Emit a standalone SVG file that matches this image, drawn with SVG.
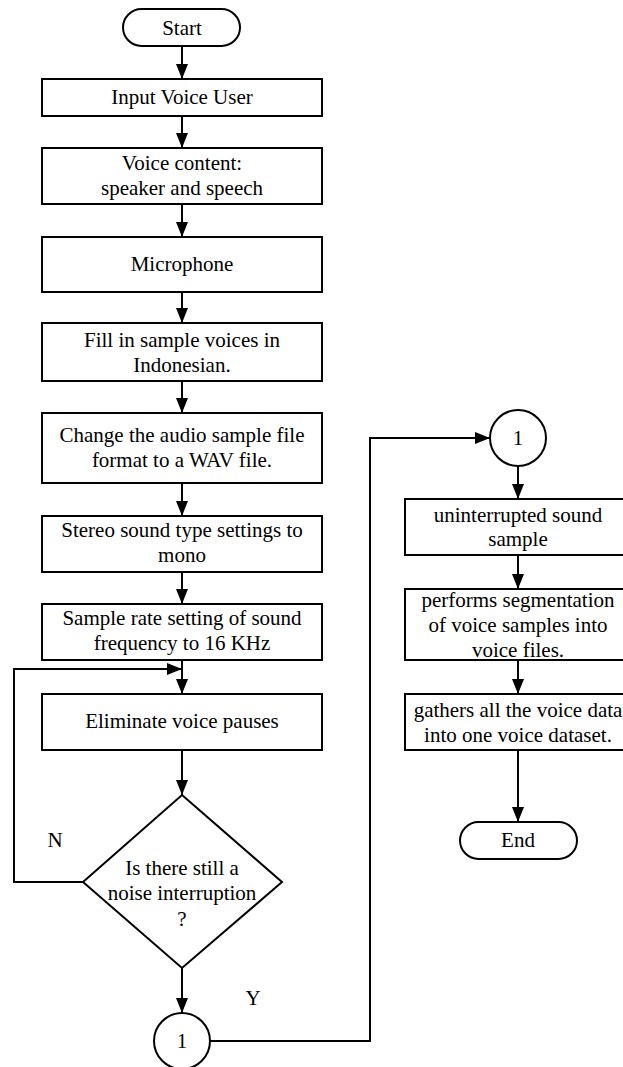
<svg xmlns="http://www.w3.org/2000/svg" width="623" height="1067" viewBox="0 0 623 1067">
<style>
.s{fill:#fff;stroke:#000;stroke-width:2}
.c{fill:none;stroke:#000;stroke-width:2}
text{font-family:"Liberation Serif","Times New Roman",serif;font-size:21px;fill:#000;text-anchor:middle}
</style>
<defs>
<marker id="a" markerUnits="userSpaceOnUse" markerWidth="16" markerHeight="12" refX="15" refY="6" orient="auto">
<path d="M0,0 L15,6 L0,12 z" fill="#000"/>
</marker>
</defs>
<rect width="623" height="1067" fill="#fff"/>
<g id="connectors">
<line class="c" x1="182" y1="46" x2="182" y2="79" marker-end="url(#a)"/>
<line class="c" x1="182" y1="116" x2="182" y2="148" marker-end="url(#a)"/>
<line class="c" x1="182" y1="204" x2="182" y2="237" marker-end="url(#a)"/>
<line class="c" x1="182" y1="292" x2="182" y2="323" marker-end="url(#a)"/>
<line class="c" x1="182" y1="381" x2="182" y2="413" marker-end="url(#a)"/>
<line class="c" x1="182" y1="483" x2="182" y2="516" marker-end="url(#a)"/>
<line class="c" x1="182" y1="572" x2="182" y2="604" marker-end="url(#a)"/>
<line class="c" x1="182" y1="660" x2="182" y2="694" marker-end="url(#a)"/>
<line class="c" x1="182" y1="750" x2="182" y2="795" marker-end="url(#a)"/>
<polyline class="c" points="83,882 14,882 14,669 182,669" marker-end="url(#a)"/>
<line class="c" x1="182" y1="968" x2="182" y2="1013" marker-end="url(#a)"/>
<polyline class="c" points="210,1041 370,1041 370,438 490,438" marker-end="url(#a)"/>
<line class="c" x1="518" y1="466" x2="518" y2="499" marker-end="url(#a)"/>
<line class="c" x1="518" y1="555" x2="518" y2="589" marker-end="url(#a)"/>
<line class="c" x1="518" y1="660" x2="518" y2="694" marker-end="url(#a)"/>
<line class="c" x1="518" y1="750" x2="518" y2="822" marker-end="url(#a)"/>
<text x="55" y="847">N</text>
<text x="253" y="1005">Y</text>
</g>
<g id="start"><rect class="s" x="123" y="9" width="117" height="37" rx="18.5"/><text x="182" y="35">Start</text></g>
<g id="input"><rect class="s" x="42" y="79" width="280" height="37"/><text x="182" y="104">Input Voice User</text></g>
<g id="content"><rect class="s" x="42" y="148" width="280" height="56"/><text x="182" y="170">Voice content:</text><text x="182" y="195">speaker and speech</text></g>
<g id="mic"><rect class="s" x="42" y="237" width="280" height="55"/><text x="182" y="271">Microphone</text></g>
<g id="fill"><rect class="s" x="42" y="323" width="280" height="58"/><text x="182" y="347">Fill in sample voices in</text><text x="182" y="372">Indonesian.</text></g>
<g id="change"><rect class="s" x="42" y="413" width="280" height="70"/><text x="182" y="442">Change the audio sample file</text><text x="182" y="467">format to a WAV file.</text></g>
<g id="stereo"><rect class="s" x="42" y="516" width="280" height="56"/><text x="182" y="537">Stereo sound type settings to</text><text x="182" y="562">mono</text></g>
<g id="rate"><rect class="s" x="42" y="604" width="280" height="56"/><text x="182" y="625">Sample rate setting of sound</text><text x="182" y="650">frequency to 16 KHz</text></g>
<g id="eliminate"><rect class="s" x="42" y="694" width="280" height="56"/><text x="182" y="728">Eliminate voice pauses</text></g>
<g id="decision"><polygon class="s" points="182,795 282,882 182,968 83,882"/><text x="182" y="875">Is there still a</text><text x="182" y="900">noise interruption</text><text x="182" y="926">?</text></g>
<g id="conn1a"><circle class="s" cx="182" cy="1041" r="28"/><text x="182" y="1048">1</text></g>
<g id="conn1b"><circle class="s" cx="518" cy="438" r="28"/><text x="518" y="445">1</text></g>
<g id="uninterrupted"><rect class="s" x="405" y="499" width="227" height="56"/><text x="518" y="522">uninterrupted sound</text><text x="518" y="546">sample</text></g>
<g id="segment"><rect class="s" x="405" y="589" width="227" height="71"/><text x="518" y="607">performs segmentation</text><text x="518" y="632">of voice samples into</text><text x="518" y="657">voice files.</text></g>
<g id="gather"><rect class="s" x="405" y="694" width="227" height="56"/><text x="518" y="717">gathers all the voice data</text><text x="518" y="742">into one voice dataset.</text></g>
<g id="end"><rect class="s" x="460" y="822" width="117" height="37" rx="18.5"/><text x="518" y="847">End</text></g>
</svg>
